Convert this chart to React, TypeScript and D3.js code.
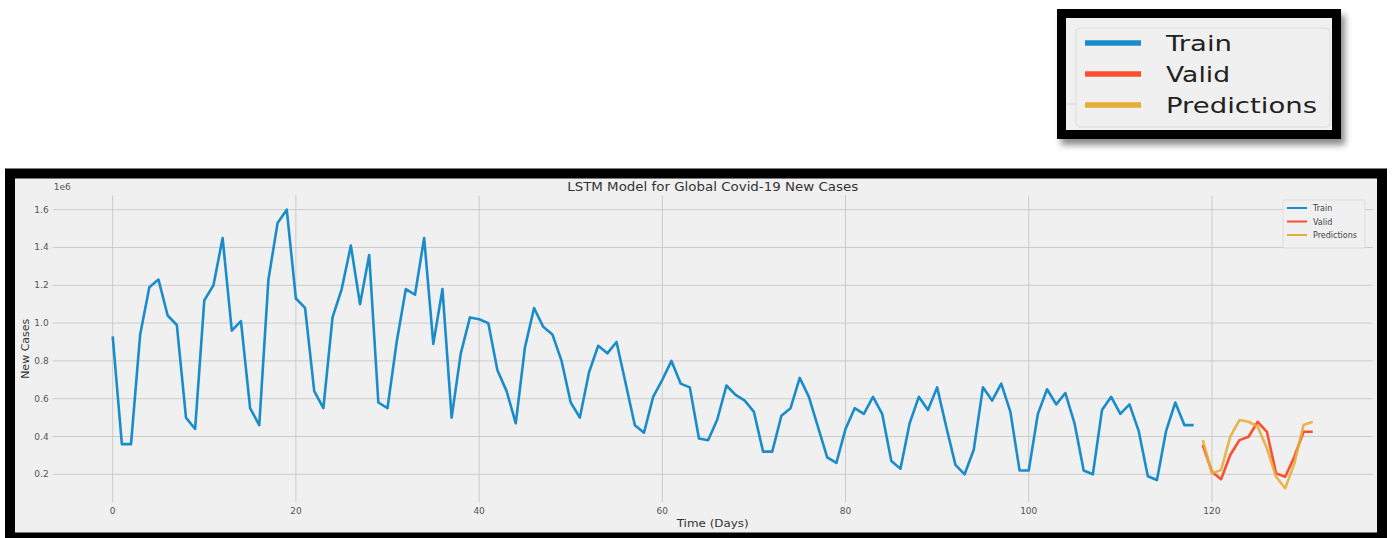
import React from 'react';
import * as d3 from 'd3';

// values in millions
const trainCases = [
  0.93, 0.36, 0.36, 0.94, 1.19, 1.23, 1.04, 0.99, 0.5, 0.44,
  1.12, 1.2, 1.45, 0.96, 1.01, 0.55, 0.46, 1.23, 1.53, 1.6,
  1.13, 1.08, 0.64, 0.55, 1.03, 1.18, 1.41, 1.1, 1.36, 0.58,
  0.55, 0.9, 1.18, 1.15, 1.45, 0.89, 1.18, 0.5, 0.84, 1.03,
  1.02, 1.0, 0.75, 0.64, 0.47, 0.87, 1.08, 0.98, 0.94, 0.8,
  0.58, 0.5, 0.74, 0.88, 0.84, 0.9, 0.68, 0.46, 0.42, 0.61,
  0.7, 0.8, 0.68, 0.66, 0.39, 0.38, 0.49, 0.67, 0.62, 0.59,
  0.53, 0.32, 0.32, 0.51, 0.55, 0.71, 0.61, 0.45, 0.29, 0.26,
  0.44, 0.55, 0.52, 0.61, 0.52, 0.27, 0.23, 0.47, 0.61, 0.54,
  0.66, 0.45, 0.25, 0.2, 0.33, 0.66, 0.59, 0.68, 0.53, 0.22,
  0.22, 0.52, 0.65, 0.57, 0.63, 0.47, 0.22, 0.2, 0.54, 0.61,
  0.52, 0.57, 0.43, 0.19, 0.17, 0.43, 0.58, 0.46, 0.46,
];
const validCases = [0.355, 0.214, 0.174, 0.302, 0.381, 0.399, 0.478, 0.425, 0.205, 0.187, 0.293, 0.425, 0.425];
const predictedCases = [0.381, 0.205, 0.223, 0.399, 0.487, 0.478, 0.452, 0.338, 0.187, 0.126, 0.258, 0.461, 0.478];

const xTicks = [0, 20, 40, 60, 80, 100, 120];
const yTicks = [0.2, 0.4, 0.6, 0.8, 1.0, 1.2, 1.4, 1.6];
const seriesNames = ['Train', 'Valid', 'Predictions'];
const seriesColors = ['#1a8cca', '#fc4f30', '#e5ae38'];
// the pasted legend is stretched sideways in the picture
const bigLegendWidths = [66, 64, 151];

const FONT = 'DejaVu Sans, sans-serif';

export default function App() {
  const validStart = trainCases.length;
  const train = trainCases.map((v, i) => ({ d: i, v }));
  const valid = validCases.map((v, i) => ({ d: validStart + i, v }));
  const preds = predictedCases.map((v, i) => ({ d: validStart + i, v }));

  const x = d3.scaleLinear().domain([-6.55, 137.55]).range([52.7, 1372.7]);
  const y = d3.scaleLinear().domain([0.052, 1.676]).range([502.3, 195.3]);

  const line = d3
    .line<{ d: number; v: number }>()
    .x((p) => x(p.d))
    .y((p) => y(p.v));

  const [x0, x1] = x.range();
  const [yb, yt] = y.range();

  return (
    <svg
      width={1393}
      height={538}
      style={{ position: 'absolute', left: 0, top: 0, background: '#fff' }}
      fontFamily={FONT}
    >
      <defs>
        <filter id="shadow" x="-10%" y="-10%" width="130%" height="140%">
          <feDropShadow dx="4" dy="6" stdDeviation="3" floodColor="#000" floodOpacity="0.45" />
        </filter>
      </defs>

      {/* zoomed legend pasted on top */}
      <g>
        <rect x={1061.5} y={13.5} width={275} height={121} fill="#f0f0f0" stroke="#000" strokeWidth={9} filter="url(#shadow)" />
        <line x1={1066} x2={1332} y1={104} y2={104} stroke="#d4d4d4" strokeWidth={1} />
        <rect x={1076} y={28} width={254} height={99} rx={4} fill="#f0f0f0" stroke="#dcdcdc" strokeWidth={1} />
        {seriesNames.map((name, i) => (
          <g key={name} transform={`translate(0, ${43 + i * 31})`}>
            <line x1={1085} x2={1141} y1={0} y2={0} stroke={seriesColors[i]} strokeWidth={5.5} />
            <text
              x={1166}
              y={8}
              fontSize={22}
              fill="#222"
              textLength={bigLegendWidths[i]}
              lengthAdjust="spacingAndGlyphs"
            >
              {name}
            </text>
          </g>
        ))}
      </g>

      {/* chart screenshot frame */}
      <rect x={10} y={173.5} width={1372} height={364} fill="#f0f0f0" stroke="#000" strokeWidth={10} />

      {/* grid */}
      <g stroke="#cbcbcb" strokeWidth={1}>
        {yTicks.map((t) => (
          <line key={`gy${t}`} x1={x0} x2={x1} y1={y(t)} y2={y(t)} />
        ))}
        {xTicks.map((t) => (
          <line key={`gx${t}`} x1={x(t)} x2={x(t)} y1={yt} y2={yb} />
        ))}
      </g>

      {/* tick labels */}
      <g fontSize={9} fill="#555">
        {yTicks.map((t) => (
          <text key={`ty${t}`} x={x0 - 4} y={y(t) + 3} textAnchor="end">
            {t.toFixed(1)}
          </text>
        ))}
        {xTicks.map((t) => (
          <text key={`tx${t}`} x={x(t)} y={514} textAnchor="middle">
            {t}
          </text>
        ))}
        <text x={x0 + 1} y={190}>1e6</text>
      </g>

      <text
        x={(x0 + x1) / 2}
        y={191}
        textAnchor="middle"
        fontSize={12}
        fill="#333"
        textLength={291}
        lengthAdjust="spacingAndGlyphs"
      >
        LSTM Model for Global Covid-19 New Cases
      </text>
      <text
        x={(x0 + x1) / 2}
        y={527}
        textAnchor="middle"
        fontSize={11}
        fill="#333"
        textLength={72}
        lengthAdjust="spacingAndGlyphs"
      >
        Time (Days)
      </text>
      <text
        transform={`translate(29, ${(yt + yb) / 2}) rotate(-90)`}
        textAnchor="middle"
        fontSize={11}
        fill="#333"
      >
        New Cases
      </text>

      {/* series */}
      <g fill="none" strokeWidth={2.6} strokeLinejoin="round">
        <path d={line(train) || ''} stroke={seriesColors[0]} />
        <path d={line(valid) || ''} stroke={seriesColors[1]} />
        <path d={line(preds) || ''} stroke={seriesColors[2]} strokeOpacity={0.9} />
      </g>

      {/* in-chart legend */}
      <g>
        <rect x={1283} y={200} width={82} height={48} rx={2} fill="#f0f0f0" stroke="#dedede" strokeWidth={1} />
        {seriesNames.map((name, i) => (
          <g key={`l${name}`} transform={`translate(0, ${208 + i * 13.5})`}>
            <line x1={1287} x2={1307} y1={0} y2={0} stroke={seriesColors[i]} strokeWidth={2} />
            <text x={1313} y={3} fontSize={8} fill="#444">
              {name}
            </text>
          </g>
        ))}
      </g>
    </svg>
  );
}
